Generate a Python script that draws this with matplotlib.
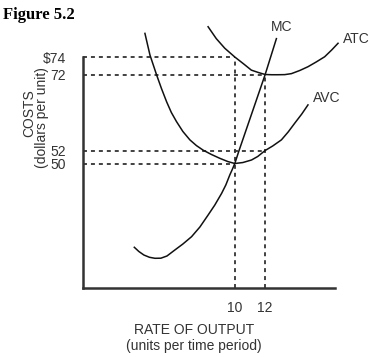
import numpy as np
import matplotlib
matplotlib.use("Agg")
import matplotlib.pyplot as plt

plt.rcParams['font.family'] = ['Liberation Sans Narrow', 'Liberation Sans', 'DejaVu Sans']

# valeurs (quantité, coût)
mc_q = [3.38, 3.68, 4.01, 4.38, 4.74, 5.13, 5.53, 6.05, 6.58, 7.15, 7.70, 8.24, 8.68, 9.13,
        9.41, 9.67, 9.84, 10, 10.28, 12, 12.74]
mc_c = [16.35, 14.66, 13.25, 12.33, 11.93, 11.97, 12.85, 15.26, 17.67, 20.6, 24.5, 29.3, 33.3, 38.0,
        41.4, 45.4, 47.7, 50, 52, 72, 76.1]

avc_q = [4.08, 4.24, 4.41, 4.62, 4.85, 5.17, 5.51, 5.82, 6.16, 6.58, 7.04, 7.47, 7.91, 8.45, 9.01,
         9.54, 10, 10.53, 11.1, 11.51, 12, 12.5, 13.07, 13.52, 13.95, 14.41, 14.82]
avc_c = [76.7, 75.5, 74.23, 73.14, 71.87, 68.3, 64.8, 62.0, 59.6, 57.0, 54.8, 53.3, 52.1, 51.4, 50.8,
         50.3, 50, 50.15, 50.54, 51.08, 52, 53.2, 54.8, 56.9, 59.2, 61.6, 64.0]

atc_q = [8.24, 8.78, 9.34, 10, 10.59, 11.09, 11.55, 12, 12.43, 12.85, 13.29, 13.73, 14.28, 14.82,
         15.36, 15.92, 16.38, 16.8]
atc_c = [77.46, 76.1, 75.0, 74, 73.2, 72.5, 72.23, 72, 71.94, 71.94, 71.97, 72.1, 72.46, 72.89,
         73.43, 74.03, 74.8, 75.57]

cost_ticks = [50, 52, 72, 74]
cost_labels = ['50', '52', '72', '$74']
q_ticks = [10, 12]
q_labels = ['10', '12']

# l'axe des coûts n'est pas à l'échelle : échelle par morceaux
anchor_c = [0, 50, 52, 72, 74, 100]
anchor_h = [0, 124.5, 137.5, 213.5, 231, 458.5]

def fwd(c):
    return np.interp(c, anchor_c, anchor_h)

def inv(h):
    return np.interp(h, anchor_h, anchor_c)

fig = plt.figure(figsize=(3.70, 3.57), dpi=100)
ax = fig.add_axes([83/370, (357-288)/357, 252/370, (288-20)/357])
ax.set_yscale('function', functions=(fwd, inv))
ax.set_xlim(0, 16.6)
ax.set_ylim(0, 78.23)

dash = dict(color='#333333', linewidth=1.3, linestyle=(0, (2.2, 2.2)))
ax.plot([0, q_ticks[0]], [cost_ticks[3], cost_ticks[3]], **dash)
ax.plot([0, q_ticks[1]], [cost_ticks[2], cost_ticks[2]], **dash)
ax.plot([0, q_ticks[1]], [cost_ticks[1], cost_ticks[1]], **dash)
ax.plot([0, q_ticks[0]], [cost_ticks[0], cost_ticks[0]], **dash)
ax.plot([q_ticks[0], q_ticks[0]], [0, cost_ticks[3]], **dash)
ax.plot([q_ticks[1], q_ticks[1]], [0, cost_ticks[2]], **dash)

ax.plot(mc_q, mc_c, color='#111111', linewidth=1.1, clip_on=False)
ax.plot(avc_q, avc_c, color='#111111', linewidth=1.1, clip_on=False)
ax.plot(atc_q, atc_c, color='#111111', linewidth=1.1, clip_on=False)

ax.spines['top'].set_visible(False)
ax.spines['right'].set_visible(False)
ax.spines['left'].set_bounds(0, 74)
for s in ['left', 'bottom']:
    ax.spines[s].set_linewidth(1.8)
    ax.spines[s].set_color('#333333')

ax.set_yticks(cost_ticks)
ax.set_yticklabels(cost_labels)
ax.set_xticks(q_ticks)
ax.set_xticklabels(q_labels)
ax.minorticks_off()
ax.tick_params(axis='y', length=0, pad=12, labelsize=10, labelcolor='#333333')
ax.tick_params(axis='x', length=0, pad=9, labelsize=10, labelcolor='#333333')

fig.text(29/370, 1-113/357, 'COSTS', rotation=90, ha='center', va='center', fontsize=10, color='#333333')
fig.text(42/370, 1-118/357, '(dollars per unit)', rotation=90, ha='center', va='center', fontsize=10, color='#333333')
fig.text(194/370, 1-330/357, 'RATE OF OUTPUT', ha='center', va='center', fontsize=10, color='#333333')
fig.text(194/370, 1-346/357, '(units per time period)', ha='center', va='center', fontsize=10, color='#333333')

fig.text(282/370, 1-27/357, 'MC', ha='center', va='center', fontsize=10, color='#333333')
fig.text(343/370, 1-39/357, 'ATC', ha='left', va='center', fontsize=10, color='#333333')
fig.text(327/370, 1-98/357, 'AVC', ha='center', va='center', fontsize=10, color='#333333')

fig.text(3/370, 1-15/357, 'Figure 5.2', ha='left', va='center', fontsize=12, fontweight='bold',
         family='Liberation Serif')

fig.savefig('out.png', dpi=100)
